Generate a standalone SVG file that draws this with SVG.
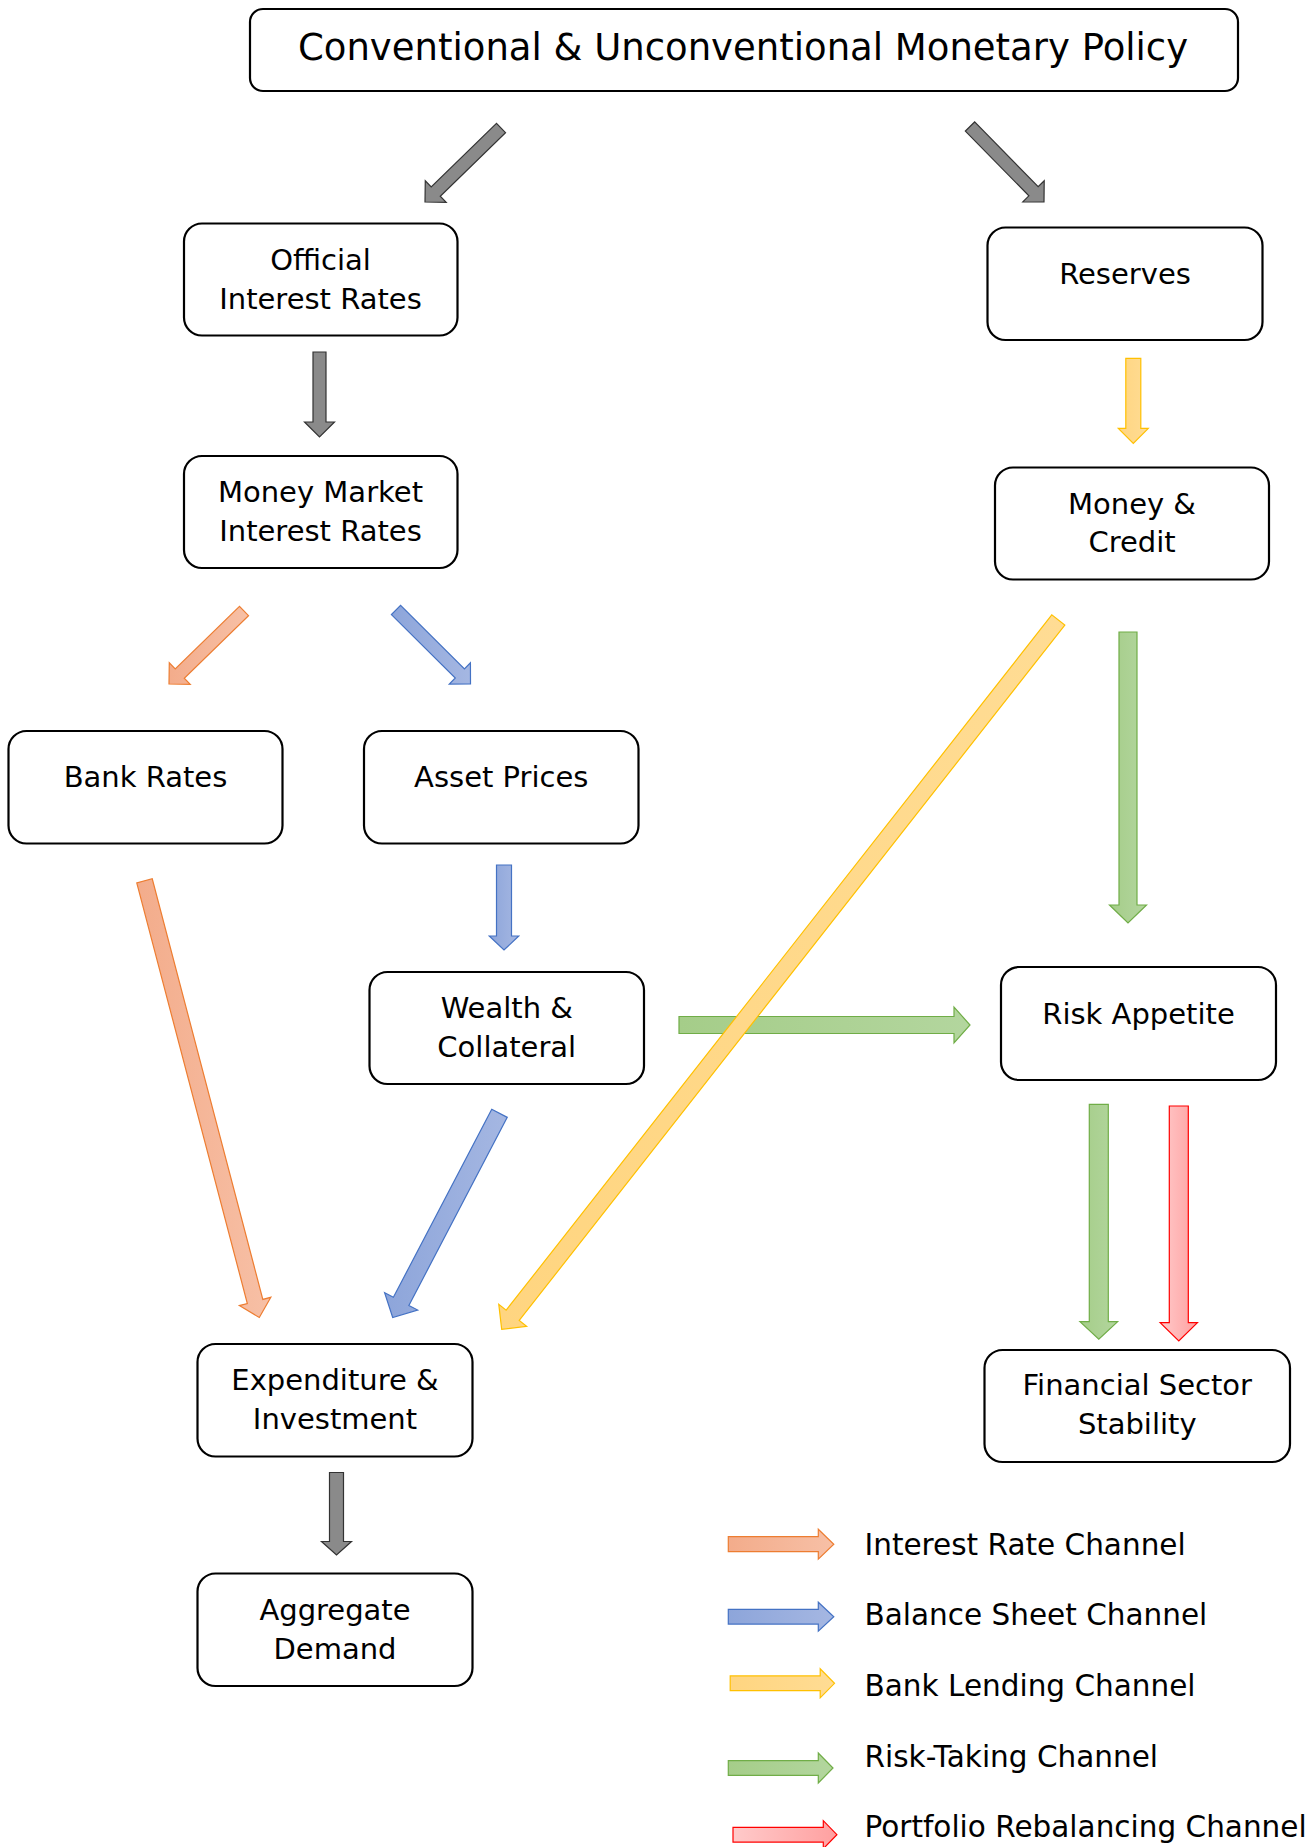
<svg xmlns="http://www.w3.org/2000/svg" width="1308" height="1847" viewBox="0 0 1308 1847">
<defs>
<style>
.box{fill:#fff;stroke:#000;stroke-width:2.2}
.t{font-family:"DejaVu Sans","Liberation Sans",sans-serif;font-size:29px;fill:#000;text-anchor:middle}
.title{font-size:37px}
.lg{font-family:"DejaVu Sans","Liberation Sans",sans-serif;font-size:29.5px;fill:#000}
.gray{fill:#8a8a8a;stroke:#333;stroke-width:1.2}
.or{fill:url(#gOr);stroke:#ED7D31;stroke-width:1.2}
.bl{fill:url(#gBl);stroke:#4472C4;stroke-width:1.2}
.ye{fill:url(#gYe);stroke:#FFC000;stroke-width:1.2}
.gr{fill:url(#gGr);stroke:#70AD47;stroke-width:1.2}
.rd{fill:url(#gRd);stroke:#FF0000;stroke-width:1.2}
</style>
<linearGradient id="gOr" x1="0" y1="0" x2="1" y2="0"><stop offset="0" stop-color="#F3AC8B"/><stop offset="1" stop-color="#F7C0A6"/></linearGradient>
<linearGradient id="gBl" x1="0" y1="0" x2="1" y2="0"><stop offset="0" stop-color="#8DA5DA"/><stop offset="1" stop-color="#A5B7E2"/></linearGradient>
<linearGradient id="gYe" x1="0" y1="0" x2="1" y2="0"><stop offset="0" stop-color="#FFD580"/><stop offset="1" stop-color="#FFDC94"/></linearGradient>
<linearGradient id="gGr" x1="0" y1="0" x2="1" y2="0"><stop offset="0" stop-color="#A5CD89"/><stop offset="1" stop-color="#B3D69E"/></linearGradient>
<linearGradient id="gRd" x1="0" y1="0" x2="1" y2="0"><stop offset="0" stop-color="#FFCACA"/><stop offset="1" stop-color="#FFA0A0"/></linearGradient>
</defs>
<rect width="1308" height="1847" fill="#fff"/>

<g id="connectors">
<polygon id="a-title-official" class="gray" points="496.47,123.34 431.21,186.88 425.28,180.80 425,202 446.20,202.29 440.27,196.20 505.53,132.66"/>
<polygon id="a-title-reserves" class="gray" points="965.36,131.05 1028.86,195.84 1022.79,201.79 1044,202 1044.21,180.79 1038.14,186.74 974.64,121.95"/>
<path id="a-official-mm" class="gray" d="M313,352 H326 V422 H334.5 L319.5,437 L304.5,422 H313 Z"/>
<polygon id="a-mm-bank" class="or" points="239.47,606.34 175.22,668.88 169.29,662.79 169,684 190.21,684.29 184.28,678.20 248.53,615.66"/>
<polygon id="a-mm-asset" class="bl" points="391.42,614.61 455.28,678.04 449.29,684.07 470.5,684 470.43,662.79 464.44,668.82 400.58,605.39"/>
<path id="a-asset-wealth" class="bl" d="M496.5,865 H511.5 V936 H518.75 L504,950 L489.25,936 H496.5 Z"/>
<path id="a-wealth-risk" class="gr" d="M679,1016.5 H954 V1007 L970,1025 L954,1043 V1033.5 H679 Z"/>
<path id="a-reserves-mc" class="ye" d="M1125.8,358.3 H1140.8 V428.3 H1148.3 L1133.3,443.3 L1118.3,428.3 H1125.8 Z"/>
<path id="a-mc-risk" class="gr" d="M1119,632 H1137 V905 H1146.5 L1128,923 L1109.5,905 H1119 Z"/>
<polygon id="a-mc-exp" class="ye" points="1051.77,614.88 506.16,1310.18 498.77,1304.37 501.7,1329.3 526.62,1326.23 519.22,1320.42 1064.83,625.12"/>
<polygon id="a-bank-exp" class="or" points="136.76,882.83 247.34,1303.48 239.32,1305.59 259.3,1317.5 270.84,1297.31 262.82,1299.42 152.24,878.77"/>
<polygon id="a-wealth-exp" class="bl" points="491.75,1109.24 393.39,1297.31 384.61,1292.73 392.7,1317.5 417.67,1310.01 408.89,1305.43 507.25,1117.36"/>
<path id="a-risk-fss-green" class="gr" d="M1089.3,1104.3 H1108.3 V1321.7 H1117.65 L1098.8,1339.3 L1079.95,1321.7 H1089.3 Z"/>
<path id="a-risk-fss-red" class="rd" d="M1169.3,1106 H1188.3 V1322.7 H1197.45 L1178.8,1341 L1160.15,1322.7 H1169.3 Z"/>
<path id="a-exp-agg" class="gray" d="M329.5,1472.5 H343.5 V1541.5 H351.5 L336.5,1555 L321.5,1541.5 H329.5 Z"/>
</g>

<g id="title">
<rect class="box" x="250" y="9" width="988" height="82" rx="13"/>
<text class="t title" x="743" y="59.5">Conventional &amp; Unconventional Monetary Policy</text>
</g>
<g id="official">
<rect class="box" x="184" y="223.5" width="273.5" height="112" rx="18"/>
<text class="t" x="320.5" y="270">Official</text>
<text class="t" x="320.5" y="308.5">Interest Rates</text>
</g>
<g id="money-market">
<rect class="box" x="184" y="456" width="273.5" height="112" rx="18"/>
<text class="t" x="320.5" y="502">Money Market</text>
<text class="t" x="320.5" y="540.5">Interest Rates</text>
</g>
<g id="reserves">
<rect class="box" x="987.5" y="227.5" width="275" height="112.5" rx="18"/>
<text class="t" x="1125" y="284">Reserves</text>
</g>
<g id="money-credit">
<rect class="box" x="995" y="467.5" width="274" height="112" rx="18"/>
<text class="t" x="1132" y="513.5">Money &amp;</text>
<text class="t" x="1132" y="552">Credit</text>
</g>
<g id="bank-rates">
<rect class="box" x="8.5" y="731" width="274" height="112.5" rx="18"/>
<text class="t" x="145.5" y="787">Bank Rates</text>
</g>
<g id="asset-prices">
<rect class="box" x="364" y="731" width="274.5" height="112.5" rx="18"/>
<text class="t" x="501.25" y="787">Asset Prices</text>
</g>
<g id="wealth-collateral">
<rect class="box" x="369.5" y="972" width="274.5" height="112" rx="18"/>
<text class="t" x="506.75" y="1018">Wealth &amp;</text>
<text class="t" x="506.75" y="1056.5">Collateral</text>
</g>
<g id="risk-appetite">
<rect class="box" x="1001" y="967" width="275" height="113" rx="18"/>
<text class="t" x="1138.5" y="1023.5">Risk Appetite</text>
</g>
<g id="expenditure-investment">
<rect class="box" x="197.5" y="1344" width="275" height="112.5" rx="18"/>
<text class="t" x="335" y="1389.5">Expenditure &amp;</text>
<text class="t" x="335" y="1428.5">Investment</text>
</g>
<g id="financial-stability">
<rect class="box" x="984.5" y="1350" width="305.5" height="112" rx="18"/>
<text class="t" x="1137.25" y="1395">Financial Sector</text>
<text class="t" x="1137.25" y="1434">Stability</text>
</g>
<g id="aggregate-demand">
<rect class="box" x="197.5" y="1573.5" width="275" height="112.5" rx="18"/>
<text class="t" x="335" y="1620">Aggregate</text>
<text class="t" x="335" y="1658.5">Demand</text>
</g>

<g id="legend">
<path class="or" d="M728.3,1536.7 H818.3 V1529.2 L833.8,1544.2 L818.3,1559.2 V1551.7 H728.3 Z"/>
<text class="lg" x="864.5" y="1554.5">Interest Rate Channel</text>
<path class="bl" d="M728.3,1609.35 H818.3 V1602.2 L833.8,1616.7 L818.3,1631.2 V1624.05 H728.3 Z"/>
<text class="lg" x="864.5" y="1625">Balance Sheet Channel</text>
<path class="ye" d="M730.2,1675.95 H820.2 V1668.8 L834.5,1683.3 L820.2,1697.8 V1690.65 H730.2 Z"/>
<text class="lg" x="864.5" y="1695.5">Bank Lending Channel</text>
<path class="gr" d="M728.3,1760.65 H818.3 V1753 L833,1768 L818.3,1783 V1775.35 H728.3 Z"/>
<text class="lg" x="864.5" y="1766.5">Risk-Taking Channel</text>
<path class="rd" d="M733,1827.35 H823.3 V1820.7 L836.9,1834.7 L823.3,1848.7 V1842.05 H733 Z"/>
<text class="lg" x="864.5" y="1836.5">Portfolio Rebalancing Channel</text>
</g>
</svg>
